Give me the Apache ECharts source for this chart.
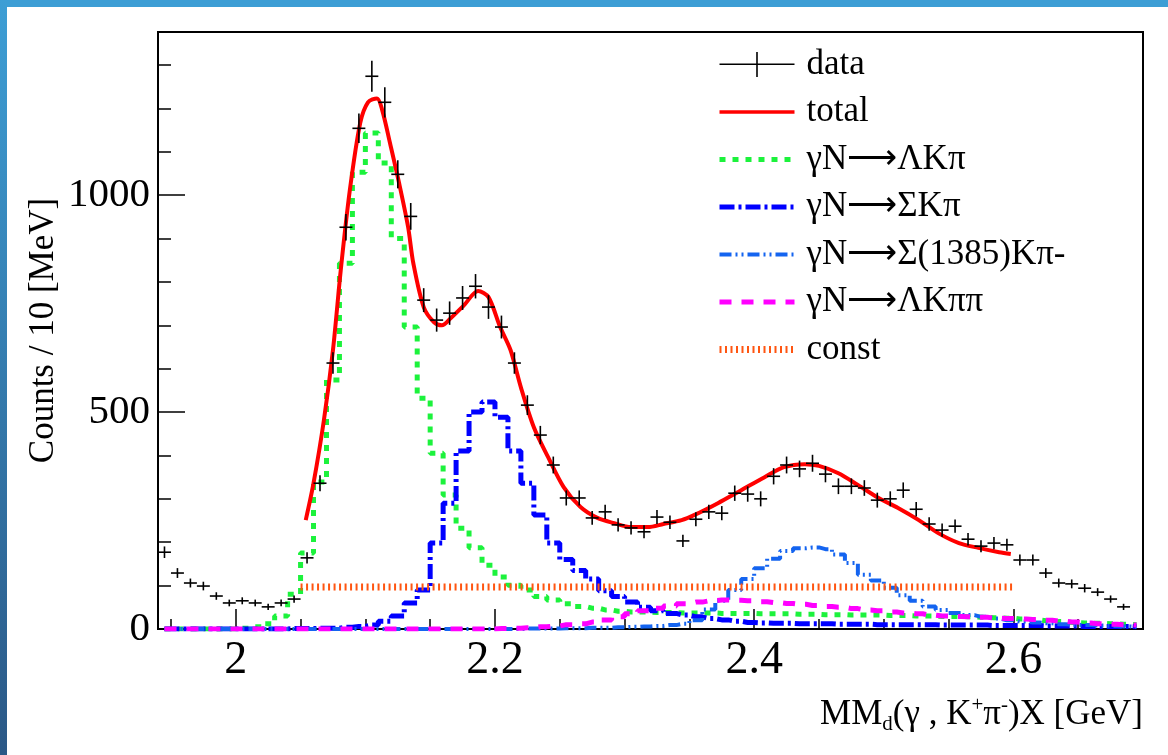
<!DOCTYPE html>
<html>
<head>
<meta charset="utf-8">
<script src="https://cdn.jsdelivr.net/npm/echarts@6/dist/echarts.min.js"></script>
<style>
    html, body { margin: 0; padding: 0; background: #fff; }
    #MissingMass { width: 1168px; height: 755px; }
</style>
</head>
<body>
<div id="MissingMass"></div>
<script>
    // histogram binning: 10 MeV bins from 1.94 GeV
    var binStart = 1.94;
    var binWidth = 0.01;

    // measured counts per bin (first bin centre 1.945)
    var dataCounts = [177,129,106,99,76,60,65,60,51,60,
        69,164,336,613,926,1154,1274,1214,1048,951,
        758,712,728,763,790,742,696,613,516,447,
        378,302,302,256,270,240,233,224,258,246,
        203,253,270,267,313,311,300,352,378,369,
        382,357,329,329,325,297,300,320,276,242,
        228,237,207,191,198,194,159,159,129,106,
        104,94,85,69,51];

    // fit components, one value per bin
    var lambdaKpi = [0,0,0,0,0,0,2,5,12,30,
        80,175,339,574,843,1053,1143,1074,900,696,
        532,405,309,232,187,147,120,101,90,75,
        67,58,52,48,44,41,39,39,38,38,
        37,37,37,36,36,36,35,35,35,34,
        34,33,33,32,32,32,31,31,30,30,
        29,29,28,27,26,25,23,21,19,17,
        15,14,13,12,11,10];
    var sigmaKpi = [0,0,0,0,0,0,0,0,0,0,
        1,1,2,2,4,6,9,18,30,60,
        90,198,290,410,500,523,488,410,336,263,
        198,160,135,115,88,75,62,50,42,36,
        32,28,24,21,18,15,14,13,13,12,
        12,12,11,11,11,10,10,10,10,10,
        9,9,9,9,8,8,8,8,7,7,
        7,6,6,6,6,5];
    var sigma1385Kpi = [0,0,0,0,0,0,0,0,0,0,
        0,0,0,0,0,0,0,0,0,0,
        0,0,0,0,0,0,0,0,1,1,
        1,2,2,3,3,4,5,6,7,9,
        12,20,45,65,90,115,140,162,180,186,
        188,184,172,152,125,112,95,78,65,52,
        44,37,32,28,24,20,17,15,13,11,
        10,9,8,7,6,5];
    var lambdaKpipi = [0,0,0,0,0,0,0,0,0,0,
        0,0,0,0,0,0,0,0,0,0,
        0,0,0,0,0,0,1,2,3,5,
        7,10,12,16,21,28,35,42,48,53,
        58,62,65,67,66,65,63,61,59,57,
        54,52,50,47,44,42,39,37,35,32,
        30,29,28,27,25,24,23,22,20,18,
        16,14,12,11,10,9];

    // total fit curve
    var totalX = [2.054,2.060,2.068,2.075,2.081,2.088,2.096,2.102,2.109,2.113,
        2.119,2.126,2.133,2.137,2.145,2.153,2.159,2.166,2.176,2.187,
        2.195,2.204,2.212,2.220,2.230,2.241,2.253,2.266,2.279,2.292,
        2.305,2.318,2.330,2.344,2.354,2.372,2.390,2.408,2.423,2.439,
        2.450,2.465,2.480,2.496,2.511,2.527,2.542,2.558,2.573,2.589,2.598];
    var totalY = [251,336,481,643,827,1011,1166,1214,1223,1196,
        1120,1028,926,843,742,707,700,717,746,779,
        765,696,643,557,465,396,327,281,256,244,
        235,235,242,251,263,290,320,350,373,380,
        376,359,332,302,279,251,221,198,187,177,173];

    // constant background
    var constX = [2.05, 2.60];
    var constLevel = 97;

    // axes
    var xMin = 1.94, xMax = 2.70;
    var yMin = 0, yMax = 1376;
    var xMajor = [2.0, 2.2, 2.4, 2.6];
    var xMinor = [1.95, 2.05, 2.1, 2.15, 2.25, 2.3, 2.35, 2.45, 2.5, 2.55, 2.65];
    var yMajor = [0, 500, 1000];
    var yMinor = [100, 200, 300, 400, 600, 700, 800, 900, 1100, 1200, 1300];

    var names = ['data', 'total', 'γN⟶ΛKπ', 'γN⟶ΣKπ', 'γN⟶Σ(1385)Kπ-', 'γN⟶ΛKππ', 'const'];

    var FONT = 'Liberation Serif';

    var colors = ['#000', '#ff0000', '#1cf23c', '#0000ff', '#1464f0', '#ff00ff', '#ff5511'];
    var widths = [1.6, 4, 5, 5, 4, 5, 7];
    var dashes = ['solid', 'solid', [6, 7], [15, 4, 3, 4], [12, 4, 2, 4, 2, 4], [12, 10], [2, 3.5]];

    function binned(values) {
        var out = [];
        values.forEach(function (v, i) {
            out.push([+(binStart + binWidth * (i + 0.5)).toFixed(3), v]);
        });
        return out;
    }

    var myChart = echarts.init(document.getElementById('MissingMass'));

    function stepSeries(idx, values) {
        return {
            name: names[idx],
            type: 'line',
            step: 'middle',
            data: binned(values),
            showSymbol: false,
            symbol: 'none',
            clip: true,
            z: 3,
            itemStyle: {color: colors[idx]},
            lineStyle: {color: colors[idx], width: widths[idx], type: dashes[idx]}
        };
    }

    var legendData = [{name: names[0], icon: 'path://M0,11.5h75v1.6h-75z M36.7,0h1.6v25h-1.6z', itemStyle: {color: '#000'}}];
    for (var i = 1; i < names.length; i++) {
        legendData.push({
            name: names[i],
            itemStyle: {color: 'rgba(0,0,0,0)', opacity: 0, borderWidth: 0},
            lineStyle: {color: colors[i], width: i === 1 ? 3.5 : widths[i], type: dashes[i], opacity: 1}
        });
    }

    myChart.setOption({
        animation: false,
        backgroundColor: '#fff',
        graphic: [
            {type: 'rect', left: 0, top: 0, shape: {width: 1168, height: 7}, style: {fill: '#3d9ed5'}, silent: true},
            {type: 'rect', left: 0, top: 0, shape: {width: 7, height: 755}, silent: true,
                style: {fill: new echarts.graphic.LinearGradient(0, 0, 0, 1, [
                    {offset: 0, color: '#3d9ed5'}, {offset: 1, color: '#2b5886'}])}}
        ],
        grid: {
            left: 158, right: 25, top: 32, bottom: 126,
            show: true, borderColor: '#000', borderWidth: 2,
            outerBoundsMode: 'none'
        },
        legend: {
            orient: 'vertical',
            left: 716,
            top: 47,
            padding: 0,
            itemWidth: 75,
            itemHeight: 25,
            itemGap: 12.5,
            selectedMode: false,
            textStyle: {fontFamily: FONT, fontSize: 35, color: '#000', lineHeight: 35, padding: [0, 0, 0, 7]},
            data: legendData
        },
        xAxis: [
            {
                type: 'value', min: xMin, max: xMax, position: 'bottom',
                axisLine: {show: true, lineStyle: {color: '#000', width: 2}},
                axisTick: {show: true, inside: true, length: 20, customValues: xMajor, lineStyle: {color: '#000', width: 1.5}},
                axisLabel: {customValues: xMajor, fontFamily: FONT, fontSize: 46, color: '#000', margin: 9,
                    formatter: function (v) { return String(+v.toFixed(1)); }},
                splitLine: {show: false},
                name: 'MM{d|d}(γ , K{u|+}π{u|-})X [GeV]',
                nameLocation: 'end',
                nameGap: 0,
                nameMoveOverlap: false,
                nameTextStyle: {
                    fontFamily: FONT, fontSize: 35, color: '#000', align: 'right', verticalAlign: 'top',
                    lineHeight: 40, padding: [66, 0, 0, 0],
                    rich: {
                        d: {fontFamily: FONT, fontSize: 21, lineHeight: 21, verticalAlign: 'bottom', color: '#000'},
                        u: {fontFamily: FONT, fontSize: 21, lineHeight: 21, verticalAlign: 'top', color: '#000'}
                    }
                }
            },
            {
                type: 'value', min: xMin, max: xMax, position: 'bottom',
                axisLine: {show: false},
                axisTick: {show: true, inside: true, length: 10, customValues: xMinor, lineStyle: {color: '#000', width: 1.5}},
                axisLabel: {show: false},
                splitLine: {show: false}
            }
        ],
        yAxis: [
            {
                type: 'value', min: yMin, max: yMax, position: 'left',
                axisLine: {show: true, lineStyle: {color: '#000', width: 2}},
                axisTick: {show: true, inside: true, length: 27, customValues: yMajor, lineStyle: {color: '#000', width: 1.5}},
                axisLabel: {customValues: yMajor, fontFamily: FONT, fontSize: 41, color: '#000', margin: 8,
                    formatter: function (v) { return String(v); }},
                splitLine: {show: false},
                name: 'Counts / 10 [MeV]',
                nameLocation: 'middle',
                nameRotate: 90,
                nameGap: 97,
                nameMoveOverlap: false,
                nameTextStyle: {fontFamily: FONT, fontSize: 35, color: '#000'}
            },
            {
                type: 'value', min: yMin, max: yMax, position: 'left',
                axisLine: {show: false},
                axisTick: {show: true, inside: true, length: 13, customValues: yMinor, lineStyle: {color: '#000', width: 1.5}},
                axisLabel: {show: false},
                splitLine: {show: false}
            }
        ],
        series: [
            stepSeries(2, lambdaKpi),
            stepSeries(3, sigmaKpi),
            stepSeries(4, sigma1385Kpi),
            stepSeries(5, lambdaKpipi),
            {
                name: names[6],
                type: 'line',
                data: constX.map(function (x) { return [x, constLevel]; }),
                showSymbol: false,
                symbol: 'none',
                z: 4,
                itemStyle: {color: colors[6]},
                lineStyle: {color: colors[6], width: widths[6], type: dashes[6]}
            },
            {
                name: names[1],
                type: 'line',
                data: totalX.map(function (x, i) { return [x, totalY[i]]; }),
                smooth: 0.3,
                showSymbol: false,
                symbol: 'none',
                z: 5,
                itemStyle: {color: colors[1]},
                lineStyle: {color: colors[1], width: widths[1]}
            },
            {
                name: names[0],
                type: 'custom',
                z: 6,
                itemStyle: {color: '#000'},
                encode: {x: 0, y: 1},
                data: binned(dataCounts),
                renderItem: function (params, api) {
                    var x = api.value(0), y = api.value(1);
                    var err = Math.sqrt(y);
                    var l = api.coord([x - binWidth / 2, y]);
                    var r = api.coord([x + binWidth / 2, y]);
                    var t = api.coord([x, y + err]);
                    var b = api.coord([x, y - err]);
                    var st = {stroke: '#000', lineWidth: widths[0]};
                    return {
                        type: 'group',
                        children: [
                            {type: 'line', shape: {x1: l[0], y1: l[1], x2: r[0], y2: r[1]}, style: st},
                            {type: 'line', shape: {x1: t[0], y1: t[1], x2: b[0], y2: b[1]}, style: st}
                        ]
                    };
                }
            }
        ]
    });

    window.addEventListener('resize', function () {
        myChart.resize();
    });
</script>
</body>
</html>
